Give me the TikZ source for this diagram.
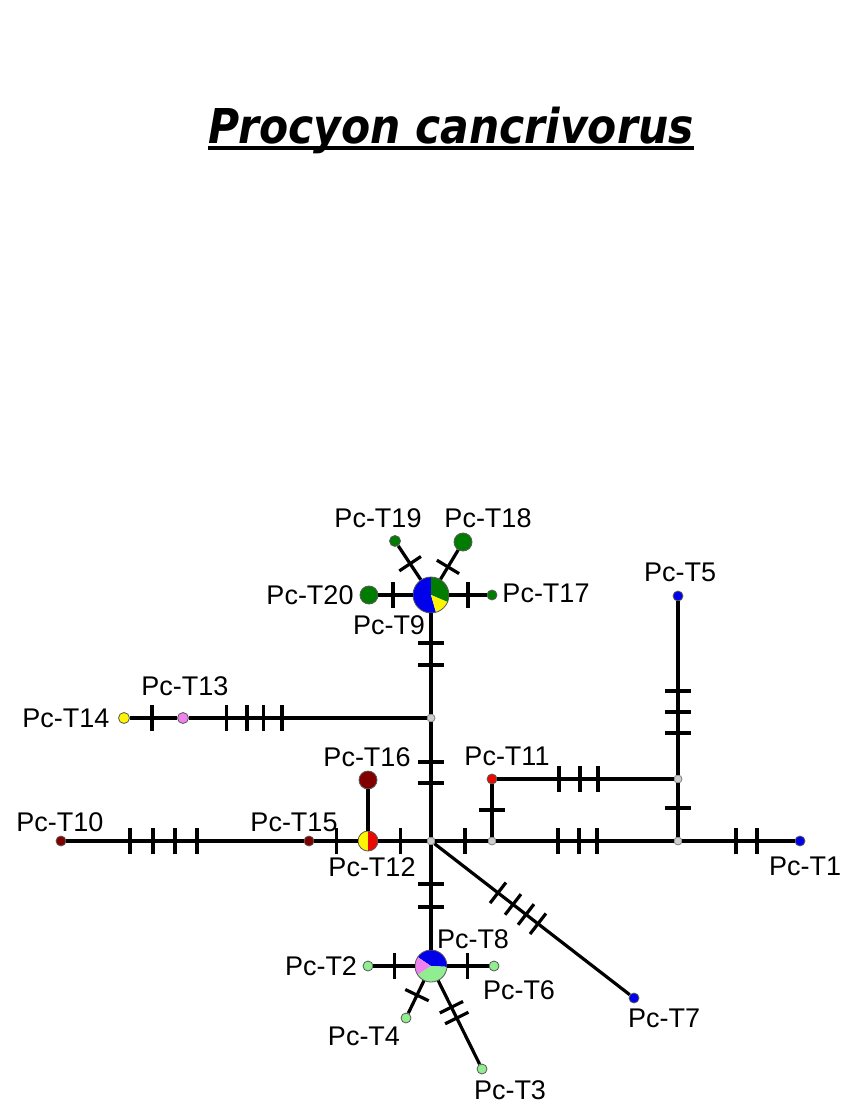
\documentclass[tikz,border=0pt]{standalone}
\usepackage{fontspec}
\setmainfont{Liberation Sans}
\newfontfamily\titlefont{DejaVu Sans}
\usetikzlibrary{calc}
\definecolor{cgreen}{RGB}{0,125,0}
\definecolor{cblue}{RGB}{0,0,235}
\definecolor{cyellow}{RGB}{255,245,0}
\definecolor{cdred}{RGB}{128,0,0}
\definecolor{cred}{RGB}{235,10,0}
\definecolor{clgreen}{RGB}{144,238,144}
\definecolor{cpink}{RGB}{238,130,238}
\definecolor{cmed}{RGB}{205,205,205}
\newcommand{\tk}[3]{\draw[tickline] ($(#1)!#3!(#2)!13pt!90:(#2)$) -- ($(#1)!#3!(#2)!13pt!-90:(#2)$);}
\tikzset{
  hap/.style={circle, inner sep=0pt, draw=black!65, line width=0.8pt, minimum size=#1},
  hap/.default=10pt,
  med/.style={circle, inner sep=0pt, minimum size=8pt, fill=cmed, draw=gray, line width=0.8pt},
  lab/.style={inner sep=0pt, font=\fontsize{27}{30}\selectfont},
  conn/.style={line width=3.2pt, draw=black},
  tickline/.style={line width=3.2pt, draw=black}
}
\begin{document}
\begin{tikzpicture}[x=1pt,y=1pt]
\useasboundingbox (0,0) rectangle (843,-1105);
\fill[white] (0,0) rectangle (843,-1105);
% title
\node[anchor=base, inner sep=0pt, font=\titlefont\bfseries\itshape\fontsize{48}{50}\selectfont] (title) at (451,-143) {\scalebox{0.885}[1]{Procyon cancrivorus}};
\draw[line width=3.5pt] (title.base west |- 0,-148) -- (title.base east |- 0,-148);
% pie hubs
\node[hap=36pt, path picture={
  \fill[cblue] (path picture bounding box.center) -- ++(90:22pt) arc[start angle=90,end angle=286,radius=22pt] -- cycle;
  \fill[cgreen] (path picture bounding box.center) -- ++(-23:22pt) arc[start angle=-23,end angle=90,radius=22pt] -- cycle;
  \fill[cyellow] (path picture bounding box.center) -- ++(-74:22pt) arc[start angle=-74,end angle=-23,radius=22pt] -- cycle;
}] (H9) at (431,-595) {};
\node[hap=32pt, path picture={
  \fill[cblue] (path picture bounding box.center) -- ++(-3:20pt) arc[start angle=-3,end angle=146,radius=20pt] -- cycle;
  \fill[cpink] (path picture bounding box.center) -- ++(146:20pt) arc[start angle=146,end angle=214,radius=20pt] -- cycle;
  \fill[clgreen] (path picture bounding box.center) -- ++(214:20pt) arc[start angle=214,end angle=357,radius=20pt] -- cycle;
}] (H8) at (431,-966) {};
\node[hap=20pt, path picture={
  \fill[cyellow] (path picture bounding box.north) rectangle (path picture bounding box.south west);
  \fill[cred] (path picture bounding box.north) rectangle (path picture bounding box.south east);
}] (T12) at (368,-841) {};
% haplotypes
\node[hap=18pt, fill=cgreen] (T20) at (369,-595) {};
\node[hap=10pt, fill=cgreen] (T17) at (492,-595) {};
\node[hap=11pt, fill=cgreen] (T19) at (395,-541) {};
\node[hap=18pt, fill=cgreen] (T18) at (463,-542) {};
\node[hap=11pt, fill=cyellow] (T14) at (124,-718) {};
\node[hap=11pt, fill=cpink] (T13) at (183,-718) {};
\node[hap=18pt, fill=cdred] (T16) at (368,-780) {};
\node[hap=10pt, fill=cdred] (T15) at (309,-841) {};
\node[hap=10pt, fill=cdred] (T10) at (61,-841) {};
\node[hap=10pt, fill=cred] (T11) at (492,-779) {};
\node[hap=10pt, fill=cblue] (T5) at (678,-596) {};
\node[hap=10pt, fill=cblue] (T1) at (800,-841) {};
\node[hap=10pt, fill=cblue] (T7) at (634,-998) {};
\node[hap=10pt, fill=clgreen] (T2) at (368,-966) {};
\node[hap=10pt, fill=clgreen] (T6) at (494,-966) {};
\node[hap=10pt, fill=clgreen] (T4) at (406,-1018) {};
\node[hap=10pt, fill=clgreen] (T3) at (482,-1069) {};
% median vectors
\node[med] (A) at (431,-718) {};
\node[med] (C) at (431,-841) {};
\node[med] (D) at (492,-841) {};
\node[med] (E) at (678,-841) {};
\node[med] (F) at (678,-779) {};
% connectors
\draw[conn] (H9) -- (A);
\draw[conn] (A) -- (C);
\draw[conn] (C) -- (H8);
\draw[conn] (A) -- (T13);
\draw[conn] (T13) -- (T14);
\draw[conn] (C) -- (T12);
\draw[conn] (T12) -- (T15);
\draw[conn] (T15) -- (T10);
\draw[conn] (T12) -- (T16);
\draw[conn] (C) -- (D);
\draw[conn] (D) -- (E);
\draw[conn] (E) -- (T1);
\draw[conn] (D) -- (T11);
\draw[conn] (T11) -- (F);
\draw[conn] (E) -- (F);
\draw[conn] (F) -- (T5);
\draw[conn] (C) -- (T7);
\draw[conn] (H9) -- (T20);
\draw[conn] (H9) -- (T17);
\draw[conn] (H9) -- (T19);
\draw[conn] (H9) -- (T18);
\draw[conn] (H8) -- (T2);
\draw[conn] (H8) -- (T6);
\draw[conn] (H8) -- (T4);
\draw[conn] (H8) -- (T3);
% mutation ticks
\tk{H9}{A}{0.39} \tk{H9}{A}{0.569}
\tk{A}{C}{0.358} \tk{A}{C}{0.528}
\tk{C}{H8}{0.344} \tk{C}{H8}{0.528}
\tk{A}{T13}{0.601} \tk{A}{T13}{0.677} \tk{A}{T13}{0.742} \tk{A}{T13}{0.823}
\tk{T13}{T14}{0.525}
\tk{C}{T12}{0.49}
\tk{T12}{T15}{0.54}
\tk{T15}{T10}{0.452} \tk{T15}{T10}{0.540} \tk{T15}{T10}{0.629} \tk{T15}{T10}{0.722}
\tk{C}{D}{0.557}
\tk{D}{E}{0.355} \tk{D}{E}{0.468} \tk{D}{E}{0.565}
\tk{E}{T1}{0.475} \tk{E}{T1}{0.648}
\tk{D}{T11}{0.5}
\tk{T11}{F}{0.36} \tk{T11}{F}{0.473} \tk{T11}{F}{0.57}
\tk{E}{F}{0.532}
\tk{F}{T5}{0.251} \tk{F}{T5}{0.366} \tk{F}{T5}{0.481}
\tk{C}{T7}{0.33} \tk{C}{T7}{0.404} \tk{C}{T7}{0.468} \tk{C}{T7}{0.527}
\tk{H9}{T20}{0.613}
\tk{H9}{T17}{0.607}
\tk{H9}{T19}{0.58}
\tk{H9}{T18}{0.53}
\tk{H8}{T2}{0.58}
\tk{H8}{T6}{0.58}
\tk{H8}{T4}{0.56}
\tk{H8}{T3}{0.40} \tk{H8}{T3}{0.505}
% labels
\node[lab] (lT19) at (378,-518) {Pc-T19};
\node[lab] (lT18) at (488,-518) {Pc-T18};
\node[lab] (lT20) at (310,-595) {Pc-T20};
\node[lab] (lT17) at (546,-593) {Pc-T17};
\node[lab] (lT9) at (389,-625) {Pc-T9};
\node[lab] (lT5) at (680,-572) {Pc-T5};
\node[lab] (lT11) at (507,-756) {Pc-T11};
\node[lab] (lT1) at (805,-866) {Pc-T1};
\node[lab] (lT13) at (185,-686) {Pc-T13};
\node[lab] (lT14) at (66,-718) {Pc-T14};
\node[lab] (lT10) at (60,-822) {Pc-T10};
\node[lab] (lT15) at (294,-822) {Pc-T15};
\node[lab] (lT16) at (367,-757) {Pc-T16};
\node[lab] (lT12) at (372,-867) {Pc-T12};
\node[lab] (lT8) at (473,-939) {Pc-T8};
\node[lab] (lT2) at (321,-966) {Pc-T2};
\node[lab] (lT6) at (519,-990) {Pc-T6};
\node[lab] (lT4) at (364,-1036) {Pc-T4};
\node[lab] (lT3) at (510,-1090) {Pc-T3};
\node[lab] (lT7) at (664,-1018) {Pc-T7};
\end{tikzpicture}
\end{document}
